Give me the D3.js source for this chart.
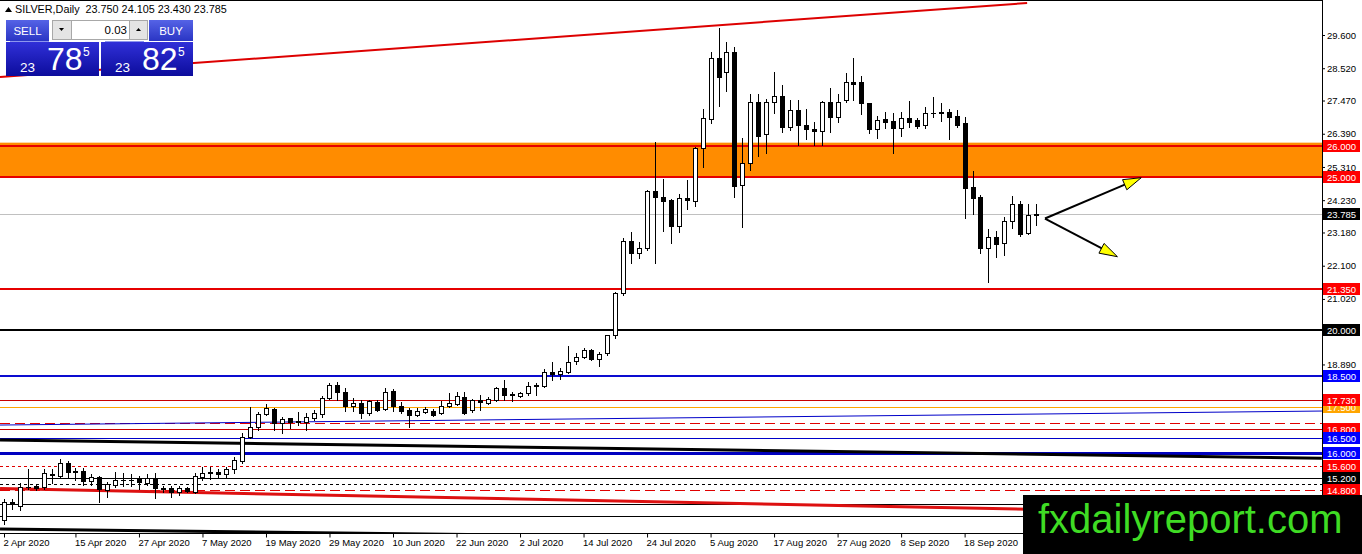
<!DOCTYPE html>
<html>
<head>
<meta charset="utf-8">
<title>SILVER, Daily</title>
<script src="https://cdn.jsdelivr.net/npm/d3@7"></script>
<style>
body { margin: 0; background: #fff; }
svg { display: block; font-family: "Liberation Sans", Arial, sans-serif; }
</style>
</head>
<body>
<div id="chart"></div>
<script>

// daily candles, 2 Apr 2020 .. 2 Oct 2020 (one per weekday)
var opens = [13.83,14.42,14.30,14.90,14.95,14.90,15.30,15.26,15.68,15.42,15.43,15.10,15.22,14.81,14.97,15.12,15.14,15.15,15.05,15.19,
  14.87,14.86,14.75,14.86,14.75,15.24,15.36,15.40,15.33,15.48,15.76,16.54,16.87,17.28,17.44,17.00,17.14,17.02,17.03,17.14,
  17.28,17.79,18.22,18.00,17.55,17.63,17.32,17.68,17.43,18.04,17.55,17.41,17.25,17.36,17.38,17.30,17.53,17.61,17.84,17.41,
  17.73,17.65,17.73,18.11,17.91,17.86,17.95,18.20,18.19,18.66,18.57,18.64,19.00,19.12,19.36,19.06,19.25,19.84,21.20,22.91,
  22.50,22.68,24.53,24.32,24.24,23.40,24.29,24.21,25.92,26.87,28.84,28.41,29.04,24.72,25.43,27.43,26.37,27.41,27.62,26.62,
  27.16,26.69,26.55,26.48,27.43,26.94,27.49,28.08,28.08,27.38,26.53,26.86,26.80,26.59,26.89,26.84,26.69,27.06,27.08,27.11,
  26.97,26.73,24.67,24.34,22.69,23.04,22.83,23.56,24.12,23.15,23.75];
var highs = [14.50,14.50,15.03,15.49,15.00,15.50,15.48,15.81,15.75,15.51,15.51,15.33,15.26,15.08,15.40,15.36,15.33,15.26,15.33,15.35,
  14.95,14.95,14.95,14.92,15.35,15.54,15.55,15.50,15.56,15.87,16.65,17.52,17.35,17.59,17.46,17.19,17.16,17.35,17.30,17.42,
  17.86,18.30,18.33,18.11,17.79,17.73,17.73,17.72,18.13,18.08,17.68,17.48,17.46,17.52,17.44,17.70,17.95,18.00,18.00,17.76,
  17.90,17.84,18.16,18.38,18.00,18.00,18.33,18.30,18.74,18.98,18.76,19.50,19.25,19.43,19.40,19.30,19.86,21.25,23.00,23.20,
  22.86,24.57,26.13,24.91,24.26,24.43,24.88,25.97,27.18,29.04,29.82,29.36,29.20,26.24,27.68,27.68,27.52,28.41,27.97,27.49,
  27.49,27.18,26.76,27.46,27.87,27.68,28.36,28.84,28.27,27.40,26.98,27.11,27.05,27.11,27.45,26.90,27.27,27.57,27.40,27.18,
  27.16,26.92,25.19,24.40,23.28,23.23,23.67,24.37,24.21,24.11,24.105];
var lows = [13.70,14.20,14.16,14.85,14.80,14.85,15.03,15.19,15.19,15.13,14.97,14.97,14.43,14.59,14.90,14.95,14.95,14.85,14.97,14.54,
  14.75,14.59,14.65,14.74,14.70,15.13,15.16,15.23,15.20,15.35,15.68,16.50,16.76,17.25,16.76,16.65,16.82,16.92,16.76,17.10,
  17.19,17.76,17.75,17.38,17.38,17.14,17.25,17.38,17.41,17.38,17.30,16.85,17.20,17.30,17.22,17.28,17.50,17.57,17.28,17.36,
  17.41,17.60,17.70,17.73,17.71,17.84,17.90,17.90,18.16,18.38,18.42,18.60,18.92,19.10,19.03,18.85,19.20,19.76,21.15,22.18,
  22.34,22.60,22.20,23.24,22.83,23.20,23.94,24.04,25.32,26.75,27.29,27.79,24.32,23.35,25.21,25.68,25.75,27.05,26.44,26.51,
  26.02,26.21,26.02,26.02,26.44,26.76,27.43,27.49,27.02,26.40,26.24,26.57,25.78,26.32,26.62,26.57,26.59,26.94,26.80,26.22,
  26.62,23.64,23.77,22.52,21.58,22.37,22.46,23.32,23.07,23.13,23.43];
var closes = [14.43,14.35,14.90,14.92,14.87,15.35,15.32,15.68,15.38,15.38,15.10,15.22,14.83,15.00,15.13,15.14,15.12,15.06,15.19,14.86,
  14.85,14.75,14.86,14.76,15.26,15.35,15.38,15.33,15.49,15.78,16.52,16.87,17.28,17.46,17.00,17.11,17.03,17.04,17.17,17.30,
  17.79,18.22,17.98,17.54,17.65,17.32,17.70,17.41,18.01,17.55,17.39,17.25,17.38,17.44,17.25,17.54,17.64,17.86,17.32,17.73,
  17.66,17.76,18.11,17.90,17.93,17.97,18.19,18.23,18.66,18.57,18.69,18.98,19.14,19.36,19.06,19.23,19.84,21.22,22.91,22.50,
  22.66,24.53,24.32,24.21,23.40,24.29,24.22,25.92,26.89,28.84,28.22,29.06,24.70,25.43,27.41,26.33,27.43,27.62,26.62,27.16,
  26.69,26.53,26.48,27.43,26.94,27.41,28.06,28.02,27.38,26.53,26.84,26.78,26.59,26.89,26.78,26.64,27.07,27.08,27.10,26.94,
  26.67,24.61,24.29,22.68,23.04,22.79,23.56,24.09,23.13,23.75,23.785];

var dateTicks = ['2020-04-02','2020-04-15','2020-04-27','2020-05-07','2020-05-19','2020-05-29','2020-06-10','2020-06-22',
  '2020-07-02','2020-07-14','2020-07-24','2020-08-05','2020-08-17','2020-08-27','2020-09-08','2020-09-18'];
var priceTicks = [29.6, 28.52, 27.47, 26.39, 25.31, 24.23, 23.18, 22.1, 21.02, 18.89];

// horizontal levels drawn on the chart, and the order their price tags are painted
var levels = [26, 25, 21.35, 20, 18.5, 17.73, 17.5, 17, 16.8, 16.5, 16, 15.6, 15.2, 15, 14.8, 14.34, 13.96];
var tagOrder = [15, 17.5, 17.73, 16.8, 16.5, 16, 15.6, 15.2, 14.8, 26, 25, 21.35, 20, 18.5];
var zone = [26.1, 24.98];
var bid = 23.785;

// trend lines as [bar index, price] pairs
var trendLines = [
  [[-0.5, 28.235], [128.875, 30.64]],
  [[-0.5, 16.92], [166, 17.375]],
  [[-0.5, 16.433], [166, 15.843]],
  [[-0.5, 14.854], [166, 13.99]],
  [[-0.5, 13.54], [166, 13.03]]
];
var arrowFrom = [131.125, 23.634];
var arrowTips = [[143.25, 24.961], [140.25, 22.393]];

var symbol = 'SILVER,Daily';
var lastBar = [23.750, 24.105, 23.430, 23.785];
var lot = '0.03';
var sellQuote = ['23', '78', '5'], buyQuote = ['23', '82', '5'];
var site = 'fxdailyreport.com';

var lineStyle = {
  '26':    { c: '#e60000', w: 2, tag: '#ff0000' },
  '25':    { c: '#e60000', w: 2, tag: '#ff0000' },
  '21.35': { c: '#e60000', w: 2, tag: '#ff0000' },
  '20':    { c: '#000', w: 2, tag: '#000' },
  '18.5':  { c: '#0c0cd0', w: 2, tag: '#0000ff' },
  '17.73': { c: '#c80000', w: 1, tag: '#ff0000' },
  '17.5':  { c: '#ffa500', w: 1, tag: '#ffa500' },
  '17':    { c: '#e00000', w: 1, dash: '10,5' },
  '16.8':  { c: '#c80000', w: 1, tag: '#ff0000' },
  '16.5':  { c: '#0000c8', w: 1, tag: '#0000ff' },
  '16':    { c: '#0000c0', w: 3, tag: '#0000ff' },
  '15.6':  { c: '#e00000', w: 1, dash: '3,3', tag: '#ff0000' },
  '15.2':  { c: '#000', w: 1, tag: '#000' },
  '15':    { c: '#000', w: 1, dash: '3,3', tag: '#000', noText: true },
  '14.8':  { c: '#e00000', w: 1, dash: '10,5', tag: '#ff0000' },
  '14.34': { c: '#000', w: 1 },
  '13.96': { c: '#000', w: 1 }
};
var trendStyle = [
  { c: '#dd0000', w: 2 },
  { c: '#0000c8', w: 1 },
  { c: '#000', w: 3 },
  { c: '#dd1010', w: 3 },
  { c: '#000', w: 3 }
];

var W = 1362, H = 554, plotW = 1322, plotH = 533.5;

var days = d3.timeDay.range(new Date(2020, 3, 2), new Date(2020, 9, 3))
    .filter(function(d) { return d.getDay() !== 0 && d.getDay() !== 6; });
var parse = d3.timeParse('%Y-%m-%d'),
    fmtDay = d3.timeFormat('%-d %b %Y'),
    fmtPrice = d3.format('.3f');

var x = d3.scaleLinear().domain([0, days.length - 1]).range([4, 1044]);
var y = d3.scaleLinear().domain([13.394, 30.738]).range([plotH, 0]);

var svg = d3.select('#chart').append('svg')
    .attr('width', W)
    .attr('height', H);

svg.append('rect').attr('width', W).attr('height', H).style('fill', '#fff');

svg.append('defs').append('clipPath').attr('id', 'plot')
  .append('rect').attr('width', plotW).attr('height', plotH);

var plot = svg.append('g').attr('clip-path', 'url(#plot)');

// support / resistance zone
plot.append('rect')
    .attr('x', 0)
    .attr('width', plotW)
    .attr('y', y(zone[0]))
    .attr('height', y(zone[1]) - y(zone[0]))
    .style('fill', '#ff8c00');

function crisp(v, w) { return w % 2 ? Math.round(v) + 0.5 : Math.round(v); }

plot.selectAll('.level')
    .data(levels)
    .enter()
    .append('line')
      .attr('class', 'level')
      .attr('x1', 0)
      .attr('x2', plotW)
      .attr('y1', function(d) { return crisp(y(d), lineStyle[d].w); })
      .attr('y2', function(d) { return crisp(y(d), lineStyle[d].w); })
      .style('stroke', function(d) { return lineStyle[d].c; })
      .style('stroke-width', function(d) { return lineStyle[d].w; })
      .style('stroke-dasharray', function(d) { return lineStyle[d].dash || null; });

plot.selectAll('.trend')
    .data(trendLines)
    .enter()
    .append('line')
      .attr('class', 'trend')
      .attr('x1', function(d) { return x(d[0][0]); })
      .attr('y1', function(d) { return y(d[0][1]); })
      .attr('x2', function(d) { return x(d[1][0]); })
      .attr('y2', function(d) { return y(d[1][1]); })
      .style('stroke', function(d, i) { return trendStyle[i].c; })
      .style('stroke-width', function(d, i) { return trendStyle[i].w; });

// bid line
plot.append('line')
    .attr('x1', 0).attr('x2', plotW)
    .attr('y1', crisp(y(bid), 1)).attr('y2', crisp(y(bid), 1))
    .style('stroke', '#c0c0c0');

// candles
var candles = plot.selectAll('.candle')
    .data(d3.range(days.length))
    .enter()
    .append('g')
      .attr('class', 'candle');

candles.append('line')
    .attr('x1', function(i) { return Math.round(x(i)) + 0.5; })
    .attr('x2', function(i) { return Math.round(x(i)) + 0.5; })
    .attr('y1', function(i) { return Math.round(y(highs[i])); })
    .attr('y2', function(i) { return Math.round(y(lows[i])) + 1; })
    .style('stroke', '#000');

candles.each(function(i) {
  var g = d3.select(this),
      cx = Math.round(x(i)),
      top = Math.round(y(Math.max(opens[i], closes[i]))),
      bot = Math.round(y(Math.min(opens[i], closes[i])));
  if (bot - top < 1) {
    g.append('line')
        .attr('x1', cx - 2).attr('x2', cx + 3)
        .attr('y1', top + 0.5).attr('y2', top + 0.5)
        .style('stroke', '#000');
  } else {
    g.append('rect')
        .attr('x', cx - 1.5)
        .attr('y', top + 0.5)
        .attr('width', 4)
        .attr('height', bot - top)
        .style('fill', closes[i] >= opens[i] ? '#fff' : '#000')
        .style('stroke', '#000');
  }
});

// forecast arrows
function arrow(from, tip) {
  var x0 = x(from[0]), y0 = y(from[1]), x1 = x(tip[0]), y1 = y(tip[1]),
      len = Math.hypot(x1 - x0, y1 - y0),
      ux = (x1 - x0) / len, uy = (y1 - y0) / len,
      bx = x1 - ux * 18, by = y1 - uy * 18;
  svg.append('line')
      .attr('x1', x0).attr('y1', y0)
      .attr('x2', bx + ux * 2).attr('y2', by + uy * 2)
      .style('stroke', '#000')
      .style('stroke-width', 2);
  svg.append('path')
      .attr('d', 'M' + x1 + ',' + y1 +
                 'L' + (bx - uy * 5.5) + ',' + (by + ux * 5.5) +
                 'L' + (bx + uy * 5.5) + ',' + (by - ux * 5.5) + 'Z')
      .style('fill', '#ffff00')
      .style('stroke', '#000')
      .style('stroke-width', 1);
}
arrowTips.forEach(function(t) { arrow(arrowFrom, t); });

// frame
svg.append('line').attr('x1', 0).attr('x2', plotW).attr('y1', 0.5).attr('y2', 0.5).style('stroke', '#000');

// price axis
var yAxis = svg.append('g')
    .attr('transform', 'translate(' + plotW + ',0)')
    .call(d3.axisRight(y).tickValues(priceTicks).tickFormat(fmtPrice)
      .tickSize(3).tickSizeOuter(0).tickPadding(2));
yAxis.select('.domain').remove();
yAxis.selectAll('text').style('font-family', '"Liberation Sans", Arial, sans-serif').style('font-size', '9.5px').style('fill', '#000');
svg.append('line').attr('x1', plotW + 0.5).attr('x2', plotW + 0.5).attr('y1', 0).attr('y2', plotH + 4).style('stroke', '#000');

// price tags
var tags = svg.selectAll('.tag')
    .data(tagOrder.map(function(p) { return { p: p, bg: lineStyle[p].tag, text: !lineStyle[p].noText }; })
      .concat([{ p: bid, bg: '#000', text: true }]))
    .enter()
    .append('g')
      .attr('class', 'tag')
      .attr('transform', function(d) { return 'translate(' + (plotW + 1) + ',' + Math.round(y(d.p)) + ')'; });
tags.append('rect')
    .attr('x', 0).attr('y', -6)
    .attr('width', 37).attr('height', 12)
    .style('fill', function(d) { return d.bg; });
tags.filter(function(d) { return d.text; }).append('text')
    .attr('x', 4).attr('y', 4)
    .style('font-size', '9.5px')
    .style('fill', '#fff')
    .text(function(d) { return fmtPrice(d.p); });

// date axis
var dateIdx = dateTicks.map(function(s) {
  var t = +parse(s);
  return days.findIndex(function(d) { return +d === t; });
});
var xAxis = svg.append('g')
    .attr('transform', 'translate(0,' + plotH + ')')
    .call(d3.axisBottom(x).tickValues(dateIdx)
      .tickFormat(function(i) { return fmtDay(days[i]); })
      .tickSize(4).tickSizeOuter(0).tickPadding(2));
xAxis.select('.domain').remove();
xAxis.selectAll('text')
    .attr('text-anchor', 'start')
    .attr('x', -1)
    .style('font-family', '"Liberation Sans", Arial, sans-serif')
    .style('font-size', '9.5px')
    .style('fill', '#000');
svg.append('line').attr('x1', 0).attr('x2', plotW + 1).attr('y1', plotH).attr('y2', plotH).style('stroke', '#000');

// header line
svg.append('path').attr('d', 'M5,12L8.5,7L12,12Z').style('fill', '#000');
svg.append('text')
    .attr('x', 15).attr('y', 13)
    .attr('xml:space', 'preserve')
    .style('font-size', '10.8px')
    .text(symbol + '  ' + lastBar.map(fmtPrice).join(' '));

// one-click trading panel
var defs = svg.select('defs');
var gBtn = defs.append('linearGradient').attr('id', 'btn').attr('x1', 0).attr('y1', 0).attr('x2', 0).attr('y2', 1);
gBtn.append('stop').attr('offset', 0).attr('stop-color', '#5563e6');
gBtn.append('stop').attr('offset', 1).attr('stop-color', '#2a35c4');
var gBox = defs.append('linearGradient').attr('id', 'box').attr('x1', 0).attr('y1', 0).attr('x2', 0).attr('y2', 1);
gBox.append('stop').attr('offset', 0).attr('stop-color', '#3030d8');
gBox.append('stop').attr('offset', 1).attr('stop-color', '#0c0c9c');

var panel = svg.append('g');
panel.append('rect').attr('x', 6).attr('y', 20).attr('width', 43).attr('height', 21).style('fill', 'url(#btn)');
panel.append('rect').attr('x', 149).attr('y', 20).attr('width', 44).attr('height', 21).style('fill', 'url(#btn)');
panel.append('rect').attr('x', 52.5).attr('y', 20.5).attr('width', 19).attr('height', 19).style('fill', '#e4e4e4').style('stroke', '#a8a8a8');
panel.append('rect').attr('x', 71.5).attr('y', 20.5).attr('width', 58).attr('height', 19).style('fill', '#fff').style('stroke', '#a8a8a8');
panel.append('rect').attr('x', 129.5).attr('y', 20.5).attr('width', 18).attr('height', 19).style('fill', '#e4e4e4').style('stroke', '#a8a8a8');
panel.append('path').attr('d', 'M59,28L64,28L61.5,31Z').style('fill', '#000');
panel.append('path').attr('d', 'M136,31L141,31L138.5,28Z').style('fill', '#000');
panel.append('text').attr('x', 127).attr('y', 34).attr('text-anchor', 'end').style('font-size', '11.5px').text(lot);
panel.append('text').attr('x', 27.5).attr('y', 35).attr('text-anchor', 'middle').style('font-size', '11.5px').style('fill', '#fff').text('SELL');
panel.append('text').attr('x', 171).attr('y', 35).attr('text-anchor', 'middle').style('font-size', '11.5px').style('fill', '#fff').text('BUY');

[[6, sellQuote], [101, buyQuote]].forEach(function(b) {
  var bx = b[0], q = b[1];
  panel.append('rect').attr('x', bx).attr('y', 42).attr('width', b[0] === 6 ? 93 : 92).attr('height', 34).style('fill', 'url(#box)');
  panel.append('line').attr('x1', bx + 4).attr('x2', bx + 43).attr('y1', 41.5).attr('y2', 41.5).style('stroke', '#8d96ee');
  panel.append('text').attr('x', bx + 14).attr('y', 72).style('font-size', '13.5px').style('fill', '#fff').text(q[0]);
  panel.append('text').attr('x', bx + 41).attr('y', 70).style('font-size', '32px').style('fill', '#fff').text(q[1]);
  panel.append('text').attr('x', bx + 77).attr('y', 56).style('font-size', '12px').style('fill', '#fff').text(q[2]);
});

// watermark
svg.append('rect').attr('x', 1023).attr('y', 495).attr('width', W - 1023).attr('height', H - 495).style('fill', '#000');
svg.append('text')
    .attr('x', 1038).attr('y', 533)
    .style('font-size', '40px')
    .style('fill', '#3fdc24')
    .text(site);

</script>
</body>
</html>
